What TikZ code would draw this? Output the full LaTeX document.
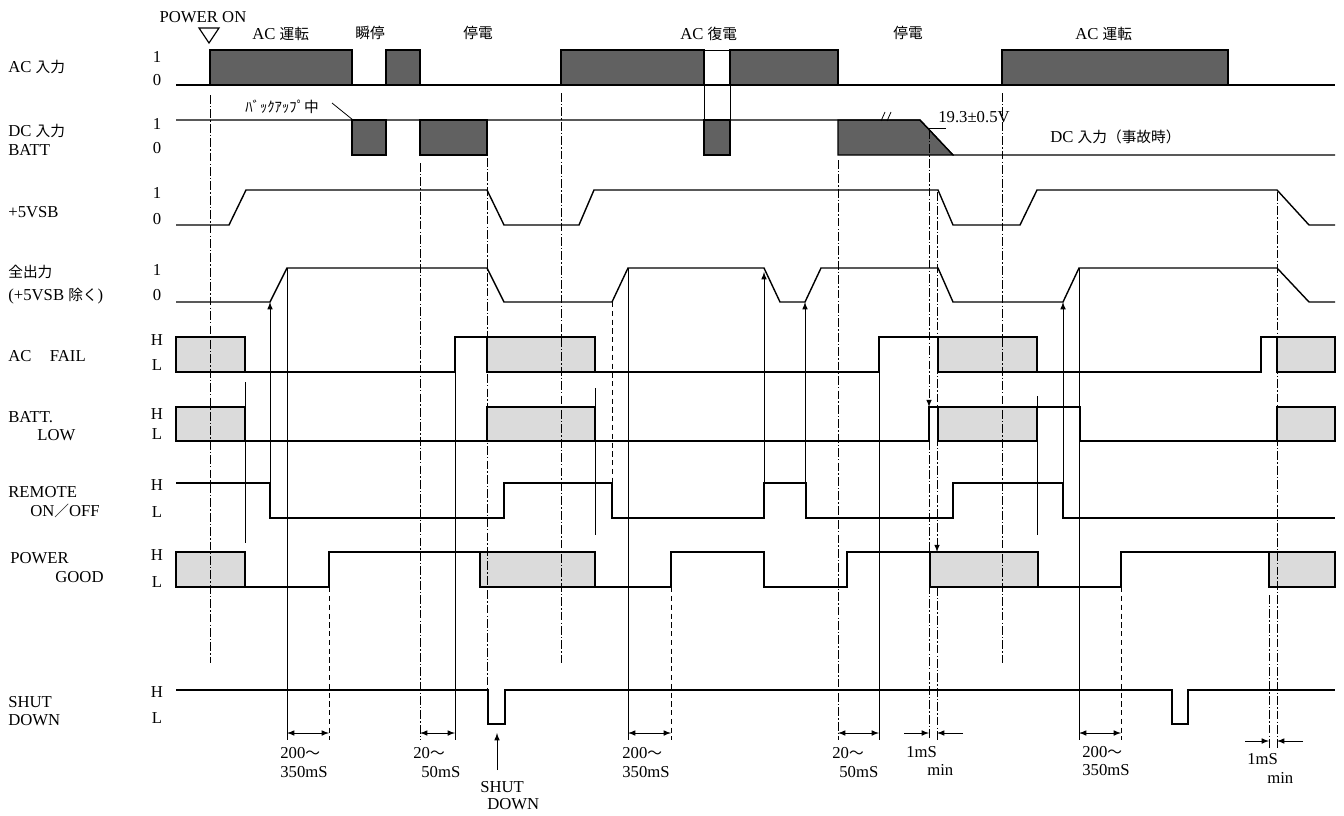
\documentclass[tikz,border=0pt]{standalone}
\usepackage{fontspec}
\setmainfont{Liberation Serif}
\newfontfamily\jp[Scale=0.88]{Noto Sans CJK JP}
\usepackage{tikz}

\tikzset{
  sig/.style={line width=0.8pt},
  refl/.style={line width=0.4pt, dash pattern=on 5pt off 1.2pt on 0.8pt off 1.2pt},
  dashl/.style={line width=0.4pt, densely dashed},
  thinl/.style={line width=0.45pt},
  acblk/.style={fill=black!62, draw=black, line width=0.6pt},
  undef/.style={fill=black!14, draw=black, line width=0.7pt},
  lbl/.style={font=\fontsize{9.5}{11}\selectfont, inner sep=0pt},
}

\begin{document}
\begin{tikzpicture}[>=latex, x=0.02cm, y=-0.02cm]
\useasboundingbox (0,0) rectangle (1344,815);

\foreach \a/\b in {210/352,386/420,561/704,730/838,1002/1228}
  \filldraw[acblk] (\a,50) rectangle (\b,85);
\draw[sig] (176,85)--(1335,85);
\draw[thinl] (704,120)--(704,50)--(730,50)--(730,120);

\foreach \a/\b in {352/386,420/487,704/730}
  \filldraw[acblk] (\a,120) rectangle (\b,155);
\filldraw[acblk] (838,155)--(838,120)--(920,120)--(953,155)--cycle;
\draw[sig] (176,120)--(920,120)--(953,155)--(1335,155);
\draw[thinl] (881,121)--(885,112) (887,121)--(891,112);
\draw[thinl] (332,103)--(353,120);
\draw[thinl] (929,128)--(946,128);

\draw[sig] (176,225)--(229,225)--(246,190)--(487,190)--(504,225)--(579,225)--(594,190)--(938,190)--(953,225)--(1020,225)--(1037,190)--(1277,190)--(1309,225)--(1335,225);

\draw[sig] (176,302)--(270,302)--(287,268)--(487,268)--(504,302)--(612,302)--(628,268)--(764,268)--(780,302)--(805,302)--(821,268)--(938,268)--(953,302)--(1063,302)--(1079,268)--(1277,268)--(1309,302)--(1335,302);

\foreach \a/\b in {176/245,487/595,938/1037,1277/1335} {
  \filldraw[undef] (\a,337) rectangle (\b,372);
  \filldraw[undef] (\a,407) rectangle (\b,441);
}
\foreach \a/\b in {176/245,480/595,930/1038,1269/1335}
  \filldraw[undef] (\a,552) rectangle (\b,587);

\draw[sig] (245,372)--(455,372)--(455,337)--(487,337);
\draw[sig] (595,372)--(879,372)--(879,337)--(938,337);
\draw[sig] (1037,372)--(1261,372)--(1261,337)--(1277,337);

\draw[sig] (245,441)--(487,441) (595,441)--(929,441)--(929,407)--(1080,407)--(1080,441)--(1277,441);

\draw[sig] (176,483)--(270,483)--(270,518)--(504,518)--(504,483)--(612,483)--(612,518)--(764,518)--(764,483)--(806,483)--(806,518)--(953,518)--(953,483)--(1063,483)--(1063,518)--(1335,518);

\draw[sig] (245,587)--(329,587)--(329,552)--(480,552);
\draw[sig] (595,587)--(671,587)--(671,552)--(764,552)--(764,587)--(847,587)--(847,552)--(930,552);
\draw[sig] (1038,587)--(1121,587)--(1121,552)--(1269,552);

\draw[sig] (176,690)--(488,690)--(488,724)--(505,724)--(505,690)--(1172,690)--(1172,724)--(1188,724)--(1188,690)--(1335,690);

\draw[refl] (210,95)--(210,663);
\draw[refl] (420,163)--(420,740);
\draw[refl] (487,158)--(487,690);
\draw[refl] (561,93)--(561,663);
\draw[refl] (838,160)--(838,740);
\draw[refl] (1002,93)--(1002,663);
\draw[refl] (1277,192)--(1277,748);
\draw[refl] (1269,595)--(1269,748);
\draw[refl,->] (929,130)--(929,407);
\draw[refl] (929,441)--(929,740);
\draw[refl,->] (937,192)--(937,552);
\draw[refl] (937,587)--(937,740);
\draw[dashl] (329,552)--(329,740);
\draw[dashl] (671,552)--(671,740);
\draw[dashl] (1121,552)--(1121,740);
\draw[dashl] (612,302)--(612,483);
\draw[thinl] (287,268)--(287,740);
\draw[thinl] (628,268)--(628,740);
\draw[thinl] (1079,268)--(1079,740);
\draw[thinl] (455,337)--(455,740);
\draw[thinl] (879,337)--(879,740);
\draw[thinl] (245,382)--(245,543);
\draw[thinl] (595,388)--(595,535);
\draw[thinl] (1037,396)--(1037,535);

\draw[thinl,->] (270,483)--(270,302);
\draw[thinl,->] (764,483)--(764,272);
\draw[thinl,->] (805,483)--(805,302);
\draw[thinl,->] (1063,483)--(1063,302);

\draw[thinl,<->] (287,733)--(329,733);
\draw[thinl,<->] (420,733)--(455,733);
\draw[thinl,<->] (628,733)--(671,733);
\draw[thinl,<->] (838,733)--(879,733);
\draw[thinl,<->] (1079,733)--(1121,733);
\draw[thinl,->] (904,733)--(929,733);
\draw[thinl,->] (963,733)--(937,733);
\draw[thinl,->] (1245,741)--(1269,741);
\draw[thinl,->] (1303,741)--(1277,741);
\draw[thinl,->] (497,770)--(497,733);

\draw[line width=0.7pt] (199,28)--(219,28)--(209,43)--cycle;

\node (pwron) [at={(203,17)}, lbl] {POWER ON};
\node (acrun) [at={(252,34)}, right, lbl] {AC {\jp 運転}};
\node (shunte) [at={(355,33)}, right, lbl] {{\jp 瞬停}};
\node (teiden) [at={(463,33)}, right, lbl] {{\jp 停電}};
\node (acfuku) [at={(680,34)}, right, lbl] {AC {\jp 復電}};
\node (teiden2) [at={(893,33)}, right, lbl] {{\jp 停電}};
\node (acrun2) [at={(1075,34)}, right, lbl] {AC {\jp 運転}};
\node (backup) [at={(245,107)}, right, lbl] {{\jp ﾊﾞｯｸｱｯﾌﾟ中}};
\node (volt) [at={(938,117)}, right, lbl] {19.3±0.5V};
\node (dcfault) [at={(1050,137)}, right, lbl] {DC {\jp 入力（事故時）}};

\node (nAC) [at={(8,67)}, right, lbl] {AC {\jp 入力}};
\node (nDC) [at={(8,131)}, right, lbl] {DC {\jp 入力}};
\node (nBATT) [at={(8,150)}, right, lbl] {BATT};
\node (nvsb) [at={(8,212)}, right, lbl] {+5VSB};
\node (nall) [at={(8,272)}, right, lbl] {{\jp 全出力}};
\node (nall2) [at={(8,296)}, right, lbl] {(+5VSB {\jp 除く})};
\node (nfail) [at={(8,356)}, right, lbl] {AC\hspace{1.1em}FAIL};
\node (nbl) [at={(8,417)}, right, lbl] {BATT.};
\node (nbl2) [at={(37,435)}, right, lbl] {LOW};
\node (nrem) [at={(8,492)}, right, lbl] {REMOTE};
\node (nrem2) [at={(30,511)}, right, lbl] {ON{\jp ／}OFF};
\node (npg) [at={(10,558)}, right, lbl] {POWER};
\node (npg2) [at={(55,577)}, right, lbl] {GOOD};
\node (nsd) [at={(8,702)}, right, lbl] {SHUT};
\node (nsd2) [at={(8,720)}, right, lbl] {DOWN};

\foreach \y/\t [count=\i] in {57/1,80/0,124/1,148/0,193/1,219/0,270/1,295/0,340/H,365/L,414/H,434/L,485/H,512/L,555/H,582/L,692/H,718/L}
  \node (lv\i) [at={(157,\y)}, lbl] {\t};

\node (t1a) [at={(280,753)}, right, lbl] {200{\jp ～}};
\node (t1b) [at={(280,772)}, right, lbl] {350mS};
\node (t2a) [at={(413,753)}, right, lbl] {20{\jp ～}};
\node (t2b) [at={(421,772)}, right, lbl] {50mS};
\node (sda) [at={(480,787)}, right, lbl] {SHUT};
\node (sdb) [at={(487,804)}, right, lbl] {DOWN};
\node (t3a) [at={(622,753)}, right, lbl] {200{\jp ～}};
\node (t3b) [at={(622,772)}, right, lbl] {350mS};
\node (t4a) [at={(832,753)}, right, lbl] {20{\jp ～}};
\node (t4b) [at={(839,772)}, right, lbl] {50mS};
\node (t5a) [at={(906,752)}, right, lbl] {1mS};
\node (t5b) [at={(927,770)}, right, lbl] {min};
\node (t6a) [at={(1082,752)}, right, lbl] {200{\jp ～}};
\node (t6b) [at={(1082,770)}, right, lbl] {350mS};
\node (t7a) [at={(1247,759)}, right, lbl] {1mS};
\node (t7b) [at={(1267,778)}, right, lbl] {min};
\end{tikzpicture}
\end{document}
